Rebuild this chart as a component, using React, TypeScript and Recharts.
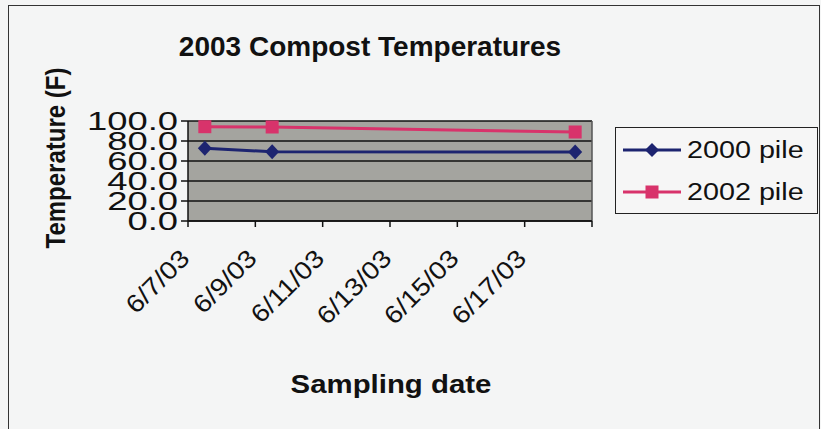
import { LineChart, Line, XAxis, YAxis, CartesianGrid, ReferenceLine } from 'recharts';

// sampling dates and readings (F)
const dates = ['6/7/03', '6/9/03', '6/18/03'];
const pile2000 = [72.7, 69.3, 69.0];
const pile2002 = [94.3, 94.0, 89.0];
const seriesNames = ['2000 pile', '2002 pile'];

// date axis: one tick every 2 days from 6/7/03
const xTicks = [0, 2, 4, 6, 8, 10, 12];
const xTickLabels = ['6/7/03', '6/9/03', '6/11/03', '6/13/03', '6/15/03', '6/17/03', ''];
const yTicks = [0, 20, 40, 60, 80, 100];

const dayOffset = (d: string) => Number(d.split('/')[1]) - 7 + 0.5;

const data = dates.map((d, i) => ({
  date: d,
  x: dayOffset(d),
  p2000: pile2000[i],
  p2002: pile2002[i],
}));

const BLUE = '#1d2470';
const PINK = '#d8336b';
const FONT = 'Liberation Sans, Arial, sans-serif';

const YTick = ({ x, y, payload }: any) => (
  <g transform={`translate(${x},${y})`}>
    <text transform="scale(1.4,1)" textAnchor="end" dy="0.36em" fontSize={26} fontFamily={FONT} fill="#111">
      {Number(payload.value).toFixed(1)}
    </text>
  </g>
);

const XTick = ({ x, y, payload }: any) => {
  const label = xTickLabels[xTicks.indexOf(payload.value)] || '';
  return (
    <g transform={`translate(${x + 3},${y + 31}) rotate(-45)`}>
      <text transform="scale(1.12,1)" textAnchor="end" fontSize={25} fontFamily={FONT} fill="#111">
        {label}
      </text>
    </g>
  );
};

const Diamond = ({ cx, cy }: any) => (
  <path d={`M${cx},${cy - 7.5}L${cx + 7},${cy}L${cx},${cy + 7.5}L${cx - 7},${cy}Z`} fill={BLUE} />
);

const Square = ({ cx, cy }: any) => (
  <rect x={cx - 6.5} y={cy - 6.5} width={13} height={13} fill={PINK} />
);

const LegendBox = () => (
  <svg width={203} height={87} style={{ position: 'absolute', left: 615, top: 127 }}>
    <rect x={0.5} y={0.5} width={202} height={86} fill="#f6f6f6" stroke="#222" />
    {seriesNames.map((name, i) => {
      const cy = 23 + i * 42;
      const color = i === 0 ? BLUE : PINK;
      return (
        <g key={name}>
          <line x1={8} x2={66} y1={cy} y2={cy} stroke={color} strokeWidth={3} />
          {i === 0 ? (
            <path d={`M37,${cy - 7}L44,${cy}L37,${cy + 7}L30,${cy}Z`} fill={color} />
          ) : (
            <rect x={30.5} y={cy - 6.5} width={13} height={13} fill={color} />
          )}
          <g transform={`translate(72,${cy + 8})`}>
            <text transform="scale(1.25,1)" fontSize={23} fontFamily={FONT} fill="#111">
              {name}
            </text>
          </g>
        </g>
      );
    })}
  </svg>
);

export default function App() {
  return (
    <div style={{ position: 'absolute', left: 0, top: 0, width: 821, height: 429, background: '#f4f5f5', overflow: 'hidden' }}>
      <LineChart width={821} height={429} data={data} margin={{ top: 121, right: 229, left: 0, bottom: 0 }}>
        <CartesianGrid vertical={false} stroke="#111" strokeWidth={1.5} fill="#a4a49f" fillOpacity={1} />
        <XAxis
          type="number"
          dataKey="x"
          domain={[0, 12]}
          ticks={xTicks}
          interval={0}
          height={208}
          tickSize={6}
          tickMargin={2}
          axisLine={{ stroke: '#111', strokeWidth: 1.5 }}
          tickLine={{ stroke: '#111', strokeWidth: 1.5 }}
          tick={<XTick />}
        />
        <YAxis
          type="number"
          domain={[0, 100]}
          ticks={yTicks}
          interval={0}
          width={188}
          tickSize={7}
          tickMargin={3}
          axisLine={{ stroke: '#111', strokeWidth: 1.5 }}
          tickLine={{ stroke: '#111', strokeWidth: 1.5 }}
          tick={<YTick />}
        />
        <ReferenceLine x={12} stroke="#555" strokeWidth={1.5} />
        <Line
          name={seriesNames[0]}
          dataKey="p2000"
          stroke={BLUE}
          strokeWidth={3}
          dot={(p: any) => <Diamond {...p} key={`d-${p.index}`} />}
          isAnimationActive={false}
        />
        <Line
          name={seriesNames[1]}
          dataKey="p2002"
          stroke={PINK}
          strokeWidth={3}
          dot={(p: any) => <Square {...p} key={`s-${p.index}`} />}
          isAnimationActive={false}
        />
      </LineChart>
      <LegendBox />
      <svg width={821} height={429} style={{ position: 'absolute', left: 0, top: 0, pointerEvents: 'none' }}>
        <rect x={8.5} y={5.5} width={811} height={430} fill="none" stroke="#333" />
        <text x={370} y={56} textAnchor="middle" fontSize={28} fontWeight="bold" fontFamily={FONT} fill="#111">
          2003 Compost Temperatures
        </text>
        <g transform="translate(65,158) rotate(-90)">
          <text transform="scale(1,1.15)" textAnchor="middle" fontSize={24} fontWeight="bold" fontFamily={FONT} fill="#111">
            Temperature (F)
          </text>
        </g>
        <g transform="translate(391,393) scale(1.13,1)">
          <text textAnchor="middle" fontSize={26} fontWeight="bold" fontFamily={FONT} fill="#111">
            Sampling date
          </text>
        </g>
      </svg>
    </div>
  );
}
